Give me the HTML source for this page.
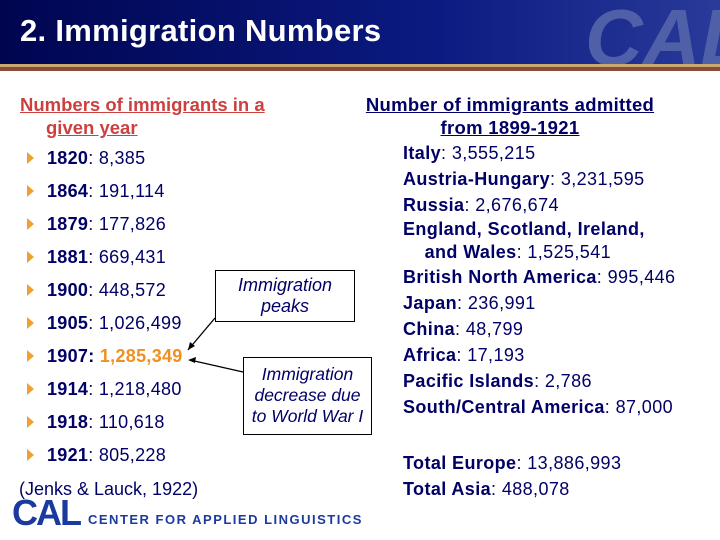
<!DOCTYPE html>
<html><head><meta charset="utf-8"><style>
body{margin:0;width:720px;height:540px;overflow:hidden;background:#fff;font-family:"Liberation Sans",sans-serif;position:relative;color:#000066}
.a{position:absolute;white-space:nowrap}
.b{font-size:18px;letter-spacing:0.3px}
.b:before{content:"";position:absolute;left:-20px;top:4px;border-left:7px solid #f0a030;border-top:6px solid transparent;border-bottom:6px solid transparent}
.r{font-size:18px;font-weight:bold;letter-spacing:0.4px}
.r span{font-weight:normal}
.box{position:absolute;border:1px solid #000;font-style:italic;font-size:17.5px;text-align:center;color:#000066;line-height:21px;background:#fff}
</style></head><body>
<div class="a" style="left:0;top:0;width:720px;height:64px;background:linear-gradient(90deg,#000550,#0a1a80 60%,#2a3a9a)"></div>
<div class="a" style="left:585px;top:-8px;font-size:80px;font-weight:bold;color:#5060a8;font-style:italic">CAL</div>
<div class="a" style="left:0;top:64px;width:720px;height:3px;background:#c8a870"></div>
<div class="a" style="left:0;top:67px;width:720px;height:4px;background:#8a4a3a"></div>
<div class="a" style="left:20px;top:13px;font-size:31px;font-weight:bold;color:#fff;letter-spacing:0.3px">2. Immigration Numbers</div>
<div class="a" style="left:20px;top:93px;font-size:18.5px;font-weight:bold;color:#cc4040;line-height:23px"><u>Numbers of immigrants in a</u><br><span style="padding-left:26px"><u>given year</u></span></div>
<div class="a b" style="left:47px;top:148px"><b>1820</b>: 8,385</div>
<div class="a b" style="left:47px;top:181px"><b>1864</b>: 191,114</div>
<div class="a b" style="left:47px;top:214px"><b>1879</b>: 177,826</div>
<div class="a b" style="left:47px;top:247px"><b>1881</b>: 669,431</div>
<div class="a b" style="left:47px;top:280px"><b>1900</b>: 448,572</div>
<div class="a b" style="left:47px;top:313px"><b>1905</b>: 1,026,499</div>
<div class="a b" style="left:47px;top:346px"><b>1907: <span style="color:#f09020">1,285,349</span></b></div>
<div class="a b" style="left:47px;top:379px"><b>1914</b>: 1,218,480</div>
<div class="a b" style="left:47px;top:412px"><b>1918</b>: 110,618</div>
<div class="a b" style="left:47px;top:445px"><b>1921</b>: 805,228</div>
<div class="a" style="left:19px;top:479px;font-size:18px">(Jenks &amp; Lauck, 1922)</div>
<svg class="a" style="left:0;top:0" width="720" height="540">
<line x1="215" y1="318" x2="188" y2="350" stroke="#000" stroke-width="1.3"/>
<polygon points="188,350 190,342 195,346" fill="#000"/>
<line x1="243" y1="372" x2="190" y2="360" stroke="#000" stroke-width="1.3"/>
<polygon points="188,360 196,357 195,363" fill="#000"/>
</svg>
<div class="box" style="left:215px;top:270px;width:140px;height:52px;padding-top:4px;box-sizing:border-box;font-size:18px">Immigration<br>peaks</div>
<div class="box" style="left:243px;top:357px;width:129px;height:78px;padding-top:6px;box-sizing:border-box">Immigration<br>decrease due<br>to World War I</div>
<div class="a" style="left:360px;top:93px;font-size:18.5px;font-weight:bold;text-decoration:underline;line-height:23px;text-align:center;width:300px;letter-spacing:0.3px">Number of immigrants admitted<br>from 1899-1921</div>
<div class="a r" style="left:403px;top:140px;line-height:26px">
<div>Italy<span>: 3,555,215</span></div>
<div>Austria-Hungary<span>: 3,231,595</span></div>
<div>Russia<span>: 2,676,674</span></div>
<div style="line-height:23px">England, Scotland, Ireland,<br>&nbsp;&nbsp;&nbsp;&nbsp;and Wales<span>: 1,525,541</span></div>
<div>British North America<span>: 995,446</span></div>
<div>Japan<span>: 236,991</span></div>
<div>China<span>: 48,799</span></div>
<div>Africa<span>: 17,193</span></div>
<div>Pacific Islands<span>: 2,786</span></div>
<div>South/Central America<span>: 87,000</span></div>
</div>
<div class="a r" style="left:403px;top:450px;line-height:26px">
<div>Total Europe<span>: 13,886,993</span></div>
<div>Total Asia<span>: 488,078</span></div>
</div>
<div class="a" style="left:12px;top:492px;font-size:36px;font-weight:bold;color:#1a3aa0;letter-spacing:-2px">CAL</div>
<div class="a" style="left:88px;top:512px;font-size:13px;font-weight:bold;color:#1a3aa0;letter-spacing:1.5px">CENTER FOR APPLIED LINGUISTICS</div>
</body></html>
